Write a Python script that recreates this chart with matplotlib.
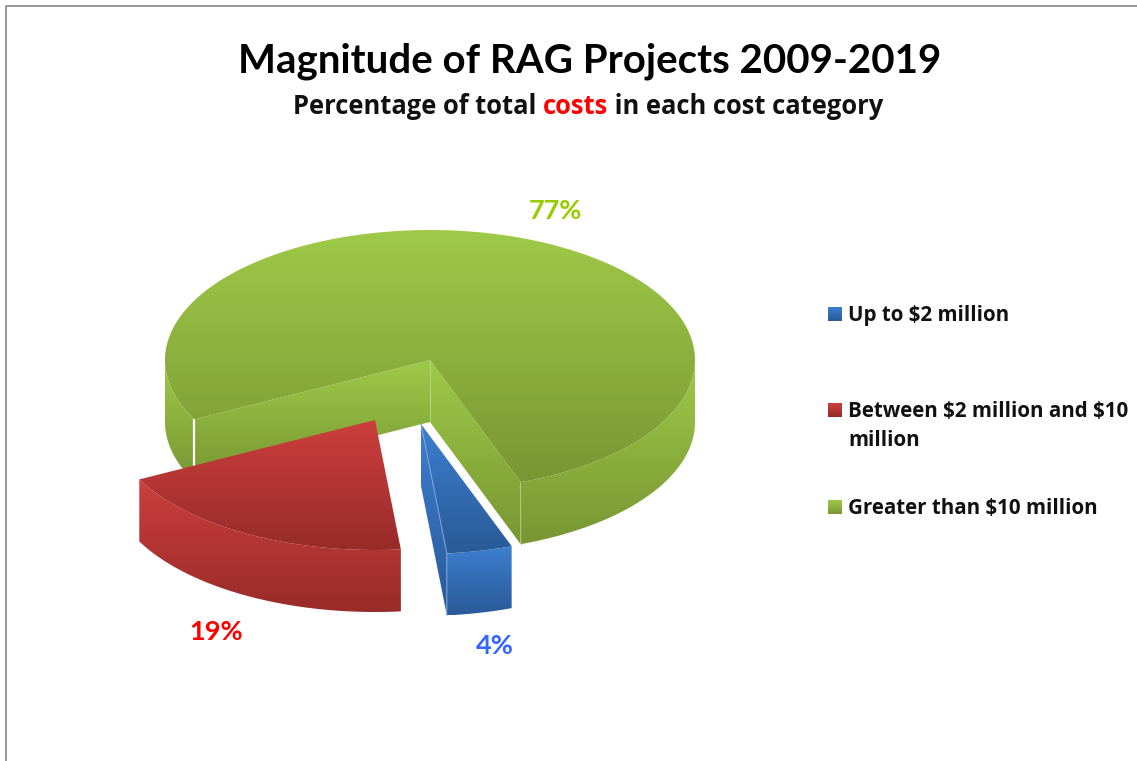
import numpy as np
import matplotlib
matplotlib.use('Agg')
import matplotlib.pyplot as plt
from matplotlib.colors import LinearSegmentedColormap
from matplotlib.patches import Polygon

# Chart data
categories = ['Up to \\$2 million', 'Between \\$2 million and \\$10\nmillion', 'Greater than \\$10 million']
values = [4, 19, 77]
label_colors = ['#3366ff', '#ff0000', '#99cc00']

# Look of each slice: top colour and bottom colour of the gradient
top_colors = ['#3d7fd0', '#cc3f3d', '#9fca48']
bottom_colors = ['#2a5a98', '#982b29', '#789633']

# Pie geometry in pixels
cx, cy = 430, 360
rx, ry = 265, 130
depth = 62
start_angle = 290
explode = [(-9, 64), (-55, 60), (0, 0)]
label_pos = [(495, 646), (216, 632), (555, 211)]
legend_y = [314, 410, 507]

plt.rcParams['font.family'] = ['Open Sans', 'DejaVu Sans']

fig = plt.figure(figsize=(11.37, 7.61), dpi=100)
ax = fig.add_axes([0, 0, 1, 1])
ax.set_xlim(0, 1137)
ax.set_ylim(761, 0)
ax.axis('off')


# Fill a polygon with a vertical gradient
def fill_grad(pts, c_top, c_bottom, z):
    pts = np.array(pts)
    cmap = LinearSegmentedColormap.from_list('g', [c_top, c_bottom])
    grad = np.linspace(0, 1, 256).reshape(-1, 1)
    im = ax.imshow(grad, cmap=cmap, aspect='auto', zorder=z, interpolation='bilinear',
                   extent=[pts[:, 0].min(), pts[:, 0].max(), pts[:, 1].max(), pts[:, 1].min()])
    im.set_clip_path(Polygon(pts, closed=True, transform=ax.transData))


def arc(a1, a2, ox, oy):
    t = np.radians(np.linspace(a1, a2, 120))
    return np.column_stack([cx + ox + rx * np.cos(t), cy + oy - ry * np.sin(t)])


def side(a1, a2, ox, oy):
    upper = arc(a1, a2, ox, oy)
    lower = upper[::-1] + [0, depth]
    return np.vstack([upper, lower])


def wall(a, ox, oy):
    p0 = np.array([cx + ox, cy + oy])
    p1 = arc(a, a, ox, oy)[0]
    return [p0, p1, p1 + [0, depth], p0 + [0, depth]]


# Angles come from the values, clockwise from the start angle
edges = start_angle - np.cumsum([0] + values) * 3.6

# Green slice first, it sits behind the other two
i = 2
a1, a2 = edges[i], edges[i + 1]
ox, oy = explode[i]
c1, c2 = top_colors[i], bottom_colors[i]
fill_grad(side(a1, 180, ox, oy), c1, c2, 1)
fill_grad(side(0, a2, ox, oy), c1, c2, 1)
fill_grad(wall(a1, ox, oy), c1, c2, 2)
fill_grad(wall(a2, ox, oy), c1, c2, 2)
p1 = arc(a1, a1, ox, oy)[0]
ax.plot([p1[0], p1[0]], [p1[1], p1[1] + depth], color='white', lw=1.6, zorder=3)
p2 = arc(a2, a2, ox, oy)[0]
ax.plot([cx, cx], [cy, cy + depth], color='#b5d77a', lw=0.7, zorder=3)
top = np.vstack([[cx + ox, cy + oy], arc(a1, a2, ox, oy)])
fill_grad(top, c1, c2, 4)
ax.plot([p2[0], p2[0]], [p2[1], p2[1] + depth], color='#8aa840', lw=0.6, zorder=4)

# Red and blue slices, pulled out of the pie
for i in [1, 0]:
    a1, a2 = edges[i], edges[i + 1]
    ox, oy = explode[i]
    c1, c2 = top_colors[i], bottom_colors[i]
    fill_grad(side(a1, a2, ox, oy), c1, c2, 5)
    if i == 0:
        # blue shows its left cut face, the one at its lower angle
        fill_grad(wall(a2, ox, oy), c1, c2, 5)
    top = np.vstack([[cx + ox, cy + oy], arc(a1, a2, ox, oy)])
    fill_grad(top, c1, c2, 6)
    if i == 0:
        p = arc(a2, a2, ox, oy)[0]
        ax.plot([cx + ox, p[0], p[0]], [cy + oy, p[1], p[1] + depth], color='#7fa8dc', lw=0.7, zorder=7)

ax.set_xlim(0, 1137)
ax.set_ylim(761, 0)

# Percent labels
for v, c, (x, y) in zip(values, label_colors, label_pos):
    ax.text(x, y, f'{v}%', color=c, fontsize=19.5, fontweight='bold', family='Lato', ha='center', va='center', zorder=8)

# Legend
for name, c1, c2, y in zip(categories, top_colors, bottom_colors, legend_y):
    fill_grad([(828, y - 7), (842, y - 7), (842, y + 7), (828, y + 7)], c1, c2, 8)
    first, *rest = name.split('\n')
    ax.text(848, y + 1.5, first, fontsize=14.8, fontweight='bold', color='#111111', va='center', ha='left', zorder=8)
    if rest:
        ax.text(848, y + 30.5, rest[0], fontsize=14.8, fontweight='bold', color='#111111', va='center', ha='left', zorder=8)

# Titles
ax.text(590, 61.5, 'Magnitude of RAG Projects 2009-2019', fontsize=29, fontweight='bold', family='Lato',
        color='black', ha='center', va='center')

# Subtitle has one red word, so place the three parts one after the other
parts = ['Percentage of total ', 'costs', ' in each cost category']
part_colors = ['#111111', '#ff0000', '#111111']
renderer = fig.canvas.get_renderer()
x = 293
for s, c in zip(parts, part_colors):
    t = ax.text(x, 107, s.replace(' ', '\u00a0'), fontsize=18.4, fontweight='bold', color=c, ha='left', va='center')
    x = t.get_window_extent(renderer).x1

# Chart area border, only top and left show
ax.plot([6, 6, 1137], [761, 6, 6], color='#868686', lw=1.2, zorder=9)

fig.savefig('out.png', dpi=100)
